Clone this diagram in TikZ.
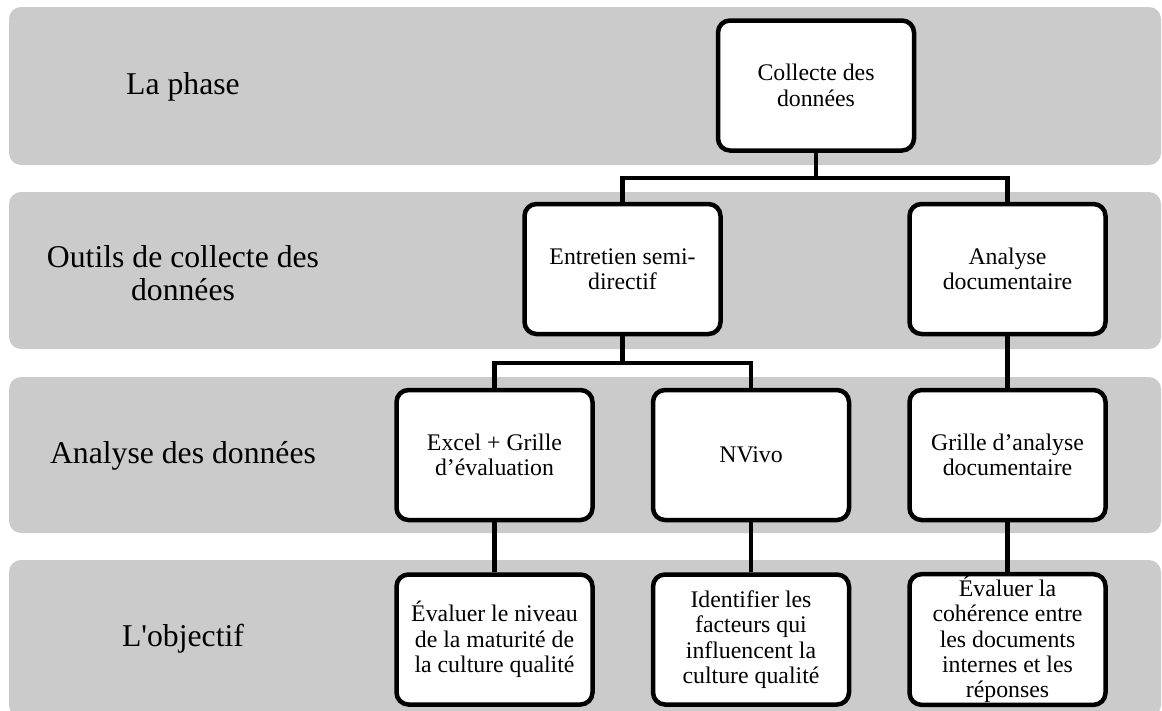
\documentclass[tikz,border=0pt]{standalone}
\usepackage{fontspec}
\setmainfont{Liberation Serif}
\newfontfamily\plainrm{Liberation Serif}
\definecolor{bandgray}{RGB}{203,203,203}
\tikzset{
  band/.style={fill=bandgray, draw=none, rounded corners=12pt},
  lab/.style={align=center, font=\fontsize{31.7}{33.5}\selectfont, inner sep=0pt},
  box/.style={draw=black, fill=white, line width=4.5pt, rounded corners=12pt,
    minimum width=196pt, minimum height=130pt, align=center, inner sep=2pt,
    font=\fontsize{23.8}{25.3}\selectfont},
  conn/.style={draw=black, line width=4.5pt}
}
\begin{document}
\begin{tikzpicture}[x=1pt, y=-1pt]
\useasboundingbox (0,0) rectangle (1162,710);
\clip (0,0) rectangle (1162,710);
% bands
\fill[band] (9,7) rectangle (1161,165);
\fill[band] (9,192) rectangle (1161,349);
\fill[band] (9,377) rectangle (1161,533);
\fill[band] (9,560) rectangle (1161,717);
% labels
\node[lab] (l1) at (183,87) {La phase};
\node[lab] (l2) at (183,273) {Outils de collecte des\\données};
\node[lab] (l3) at (183,456) {Analyse des données};
\node[lab] (l4) at (183,639) {{\plainrm L'objectif}};
% boxes
\node[box] (col) at (816,85.5) {Collecte des\\données};
\node[box] (ent) at (622.5,269) {Entretien semi-\\directif};
\node[box] (ad) at (1007.5,269) {Analyse\\documentaire};
\node[box] (exc) at (494.5,455) {Excel + Grille\\d’évaluation};
\node[box] (nv) at (751,455) {NVivo};
\node[box] (gr) at (1007.5,455) {Grille d’analyse\\documentaire};
\node[box] (o1) at (494.5,639.5) {Évaluer le niveau\\de la maturité de\\la culture qualité};
\node[box] (o2) at (751,639.5) {Identifier les\\facteurs qui\\influencent la\\culture qualité};
\node[box] (o3) at (1007.5,639.5) {Évaluer la\\cohérence entre\\les documents\\internes et les\\réponses};
\coordinate (b1) at (816,178);
\coordinate (b2) at (622.5,363);
% connectors
\draw[conn] (col.south) -- (b1);
\draw[conn] (ent.north) -- (ent.north |- b1) -- (ad.north |- b1) -- (ad.north);
\draw[conn] (ent.south) -- (b2);
\draw[conn] (exc.north) -- (exc.north |- b2) -- (nv.north |- b2) -- (nv.north);
\draw[conn] (ad.south) -- (gr.north);
\draw[conn] (exc.south) -- (o1.north);
\draw[conn] (nv.south) -- (o2.north);
\draw[conn] (gr.south) -- (o3.north);
\end{tikzpicture}
\end{document}
